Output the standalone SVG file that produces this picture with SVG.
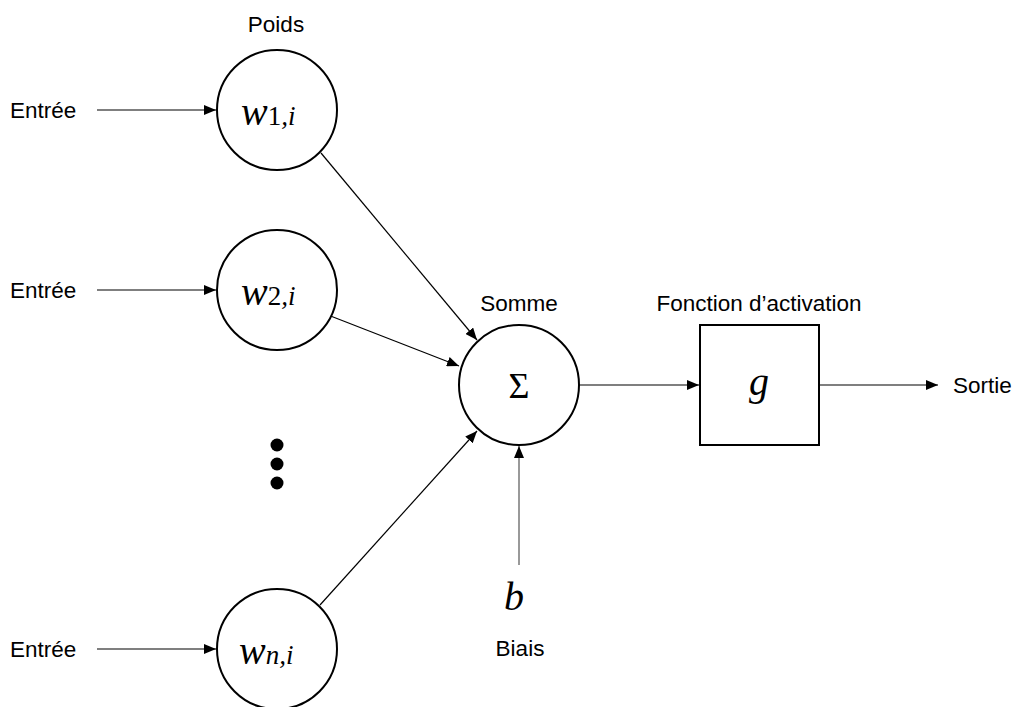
<svg xmlns="http://www.w3.org/2000/svg" width="1017" height="707" viewBox="0 0 1017 707">
<defs>
<marker id="ah" markerWidth="12" markerHeight="10" refX="12" refY="5" orient="auto" markerUnits="userSpaceOnUse">
<path d="M0,0 L12,5 L0,10 Z" fill="#000"/>
</marker>
<style>
.lbl{font-family:"Liberation Sans",Arial,sans-serif;font-size:22.5px;fill:#000}
.math{font-family:"Liberation Serif","Times New Roman",serif;font-style:italic;fill:#000}
.node{fill:#fff;stroke:#000;stroke-width:2}
.con{stroke:#000;stroke-width:1.2;fill:none;marker-end:url(#ah)}
</style>
</defs>
<rect width="1017" height="707" fill="#fff"/>
<g id="connectors">
<line class="con" x1="97" y1="110" x2="216" y2="110"/>
<line class="con" x1="97" y1="290" x2="216" y2="290"/>
<line class="con" x1="97" y1="649" x2="216" y2="649"/>
<line class="con" x1="321" y1="153" x2="477" y2="340"/>
<line class="con" x1="328" y1="315" x2="459" y2="366"/>
<line class="con" x1="320" y1="605" x2="477" y2="431"/>
<line class="con" x1="579" y1="385" x2="699" y2="385"/>
<line class="con" x1="819" y1="385" x2="938" y2="385"/>
<line class="con" style="stroke:#555" x1="519" y1="565" x2="519" y2="446"/>
</g>
<g id="inputs">
<text class="lbl" x="10" y="118">Entrée</text>
<text class="lbl" x="10" y="298">Entrée</text>
<text class="lbl" x="10" y="657">Entrée</text>
</g>
<g id="w1">
<text class="lbl" x="276" y="32" text-anchor="middle">Poids</text>
<circle class="node" cx="277" cy="110" r="60"/>
<text class="math" x="241" y="125" font-size="40">w<tspan font-size="27" font-style="normal">1</tspan><tspan font-size="27">,i</tspan></text>
</g>
<g id="w2">
<circle class="node" cx="277" cy="290" r="60"/>
<text class="math" x="241" y="305" font-size="40">w<tspan font-size="27" font-style="normal">2</tspan><tspan font-size="27">,i</tspan></text>
</g>
<g id="dots">
<circle cx="277" cy="445" r="6.5" fill="#000"/>
<circle cx="277" cy="464" r="6.5" fill="#000"/>
<circle cx="277" cy="483" r="6.5" fill="#000"/>
</g>
<g id="wn">
<circle class="node" cx="277" cy="649" r="60"/>
<text class="math" x="239" y="664" font-size="40">w<tspan font-size="27">n,i</tspan></text>
</g>
<g id="sum">
<text class="lbl" x="519" y="311" text-anchor="middle">Somme</text>
<circle class="node" cx="519" cy="385" r="60"/>
<text x="519" y="398" text-anchor="middle" font-family="'Liberation Serif',serif" font-size="36">Σ</text>
</g>
<g id="activation">
<text class="lbl" x="759" y="311" text-anchor="middle">Fonction d’activation</text>
<rect class="node" x="700" y="325" width="119" height="120"/>
<text class="math" x="759" y="395" text-anchor="middle" font-size="40">g</text>
</g>
<g id="output">
<text class="lbl" x="953" y="393">Sortie</text>
</g>
<g id="bias">
<text class="math" x="514" y="610" text-anchor="middle" font-size="40">b</text>
<text class="lbl" x="520" y="656" text-anchor="middle">Biais</text>
</g>
</svg>
